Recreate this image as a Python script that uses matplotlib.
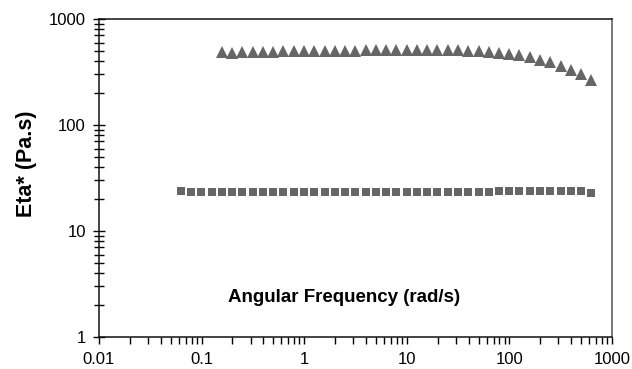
import numpy as np
import matplotlib
matplotlib.use("Agg")
import matplotlib.pyplot as plt
import matplotlib.ticker as ticker

plt.rcParams['font.family'] = ['Liberation Sans', 'DejaVu Sans']

# squares: 10 points per decade from 0.0628 to 628 rad/s
square_freq = [0.0628, 0.0791, 0.0995, 0.125, 0.158, 0.199, 0.250, 0.315, 0.397, 0.500,
               0.628, 0.791, 0.995, 1.25, 1.58, 1.99, 2.50, 3.15, 3.97, 5.00,
               6.28, 7.91, 9.95, 12.5, 15.8, 19.9, 25.0, 31.5, 39.7, 50.0,
               62.8, 79.1, 99.5, 125, 158, 199, 250, 315, 397, 500, 628]
square_eta = [23.6, 23.2, 23.1, 23.1, 23.1, 23.1, 23.1, 23.1, 23.1, 23.1,
              23.1, 23.1, 23.1, 23.1, 23.1, 23.1, 23.2, 23.2, 23.2, 23.2,
              23.2, 23.2, 23.3, 23.3, 23.3, 23.3, 23.4, 23.4, 23.4, 23.5,
              23.5, 23.6, 23.6, 23.6, 23.7, 23.7, 23.8, 23.9, 24.0, 23.6, 22.9]

# triangles: from 0.158 to 628 rad/s
tri_freq = [0.158, 0.199, 0.250, 0.315, 0.397, 0.500,
            0.628, 0.791, 0.995, 1.25, 1.58, 1.99, 2.50, 3.15, 3.97, 5.00,
            6.28, 7.91, 9.95, 12.5, 15.8, 19.9, 25.0, 31.5, 39.7, 50.0,
            62.8, 79.1, 99.5, 125, 158, 199, 250, 315, 397, 500, 628]
tri_eta = [485, 483, 485, 488, 490, 492,
           494, 496, 498, 500, 501, 502, 503, 504, 505, 506,
           507, 508, 509, 510, 510, 510, 509, 507, 504, 498,
           490, 480, 468, 453, 435, 413, 389, 363, 332, 303, 268]

marker_color = '#666666'

fig = plt.figure(figsize=(6.32, 3.69), dpi=100)
ax = fig.add_axes([0.1566, 0.0867, 0.8118, 0.8618])

ax.plot(square_freq, square_eta, linestyle='none', marker='s', markersize=6,
        color=marker_color, markeredgewidth=0)
ax.plot(tri_freq, tri_eta, linestyle='none', marker='^', markersize=8.5,
        color=marker_color, markeredgewidth=0)

ax.set_xscale('log')
ax.set_yscale('log')
ax.set_xlim(0.01, 1000)
ax.set_ylim(1, 1000)

ax.xaxis.set_major_locator(ticker.LogLocator(base=10, numticks=10))
ax.xaxis.set_minor_locator(ticker.LogLocator(base=10, subs=np.arange(2, 10), numticks=20))
ax.yaxis.set_major_locator(ticker.LogLocator(base=10, numticks=10))
ax.yaxis.set_minor_locator(ticker.LogLocator(base=10, subs=np.arange(2, 10), numticks=20))
ax.xaxis.set_major_formatter(ticker.FuncFormatter(lambda v, p: f'{v:g}'))
ax.yaxis.set_major_formatter(ticker.FuncFormatter(lambda v, p: f'{v:g}'))
ax.xaxis.set_minor_formatter(ticker.NullFormatter())
ax.yaxis.set_minor_formatter(ticker.NullFormatter())

ax.tick_params(axis='x', which='major', direction='out', length=5, width=1, labelsize=12, pad=6)
ax.tick_params(axis='x', which='minor', direction='out', length=5, width=1)
ax.tick_params(axis='y', which='major', direction='inout', length=9, width=1, labelsize=12, pad=5)
ax.tick_params(axis='y', which='minor', direction='inout', length=6.5, width=1)

for side in ['left', 'bottom', 'top']:
    ax.spines[side].set_color('#111111')
    ax.spines[side].set_linewidth(1.1)
ax.spines['right'].set_color('#555555')
ax.spines['right'].set_linewidth(1.1)

ax.set_ylabel('Eta* (Pa.s)', fontsize=15.5, fontweight='bold')
ax.yaxis.set_label_coords(-0.12, 0.544)
ax.text(0.478, 0.123, 'Angular Frequency (rad/s)', transform=ax.transAxes,
        ha='center', va='center', fontsize=13.5, fontweight='bold')

fig.savefig('out.png', dpi=100)
